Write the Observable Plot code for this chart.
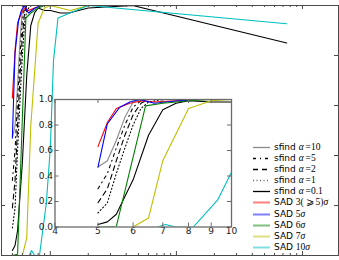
<!DOCTYPE html>
<html><head><meta charset="utf-8">
<script src="https://cdn.jsdelivr.net/npm/d3@7"></script>
<script src="https://cdn.jsdelivr.net/npm/@observablehq/plot@0.6"></script>
<style>
body{margin:0;background:#fff;}
#wrap{position:relative;width:339px;height:260px;overflow:hidden;font-family:"DejaVu Sans",sans-serif;background:#fff;}
#wrap > svg{position:absolute;left:0;top:0;}
#legend{position:absolute;left:253px;top:141.7px;font-size:9px;color:#000;}
#legend .row{height:11.15px;line-height:11.15px;white-space:nowrap;display:flex;align-items:center;}
#legend .row svg{flex:none;margin-right:4px;}
#legend .m{font-family:"Liberation Serif",serif;font-size:9.5px;}
#legend .m i{font-style:italic;}
</style></head><body><div id="wrap"><div id="legend"></div></div>
<script>
// ---- data (sigma threshold -> completeness) ----
const a10X = [5, 5.25, 5.5, 5.75, 6, 6.25, 7, 10, 20, 750];
const a10Y = [0.47, 0.52, 0.68, 0.86, 0.98, 1.0, 1.0, 1.0, 1.0, 1.0];
const a5X = [5, 5.25, 5.5, 5.75, 6, 6.25, 6.5, 10, 20, 750];
const a5Y = [0.30, 0.42, 0.62, 0.80, 0.94, 0.99, 1.0, 1.0, 1.0, 1.0];
const a2X = [5, 5.25, 5.5, 5.75, 6, 6.25, 6.5, 10, 20, 750];
const a2Y = [0.19, 0.30, 0.52, 0.72, 0.88, 0.97, 1.0, 1.0, 1.0, 1.0];
const a1X = [5, 5.25, 5.5, 5.75, 6, 6.25, 6.5, 7, 10, 20, 750];
const a1Y = [0.11, 0.19, 0.42, 0.62, 0.80, 0.93, 0.98, 1.0, 1.0, 1.0, 1.0];
const a01X = [5, 5.25, 5.5, 5.75, 6, 6.5, 7, 7.5, 8, 9, 10, 12, 14, 20, 45, 750];
const a01Y = [0.02, 0.04, 0.10, 0.24, 0.37, 0.72, 0.92, 0.97, 0.99, 0.98, 0.98, 0.97, 0.97, 0.99, 1.0, 0.85];
const s3X = [5, 5.25, 5.5, 5.9, 6.3, 6.7, 7.5, 8.5, 10, 20, 750];
const s3Y = [0.63, 0.82, 0.93, 0.97, 0.99, 0.98, 0.99, 1.0, 1.0, 1.0, 1.0];
const s5X = [5, 5.25, 5.6, 5.9, 6.2, 6.7, 7.6, 8.5, 10, 20, 750];
const s5Y = [0.47, 0.81, 0.94, 0.98, 1.0, 0.97, 0.99, 1.0, 1.0, 1.0, 1.0];
const s6X = [5, 5.5, 6.4, 7, 7.5, 8, 9, 10, 20, 750];
const s6Y = [0.0, 0.005, 0.95, 0.97, 0.98, 0.99, 1.0, 1.0, 1.0, 1.0];
const s7X = [6, 6.5, 7, 8, 9, 10, 14.4, 20, 750];
const s7Y = [0.0, 0.07, 0.52, 0.93, 0.99, 1.0, 0.98, 1.0, 1.0];
const s10X = [6.8, 7.1, 7.5, 8.2, 9.3, 10, 10.6, 11.5, 20, 750];
const s10Y = [0.0, 0.02, 0.0, 0.0, 0.21, 0.43, 0.78, 0.95, 1.0, 0.927];

const seriesNames = ["sfind α=10", "sfind α=5", "sfind α=2", "sfind α=1", "sfind α=0.1",
  "SAD 3(⩾5)σ", "SAD 5σ", "SAD 6σ", "SAD 7σ", "SAD 10σ"];
const legendPrefix = ["sfind", "sfind", "sfind", "sfind", "sfind", "SAD", "SAD", "SAD", "SAD", "SAD"];
const legendMath = ["<i>α</i>&#8201;=10", "<i>α</i>&#8201;=5", "<i>α</i>&#8201;=2", "<i>α</i>&#8201;=1", "<i>α</i>&#8201;=0.1",
  "3(&#8201;⩾&#8201;5)<i>σ</i>", "5<i>σ</i>", "6<i>σ</i>", "7<i>σ</i>", "10<i>σ</i>"];
const seriesX = [a10X, a5X, a2X, a1X, a01X, s3X, s5X, s6X, s7X, s10X];
const seriesY = [a10Y, a5Y, a2Y, a1Y, a01Y, s3Y, s5Y, s6Y, s7Y, s10Y];
const colors = ["#8a8a8a", "#000", "#000", "#000", "#000", "#ff0000", "#0000ff", "#008000", "#bfbf00", "#00bfbf"];
const dashes = [null, "3,4,1,4", "5,4", "1,2.5", null, null, null, null, null, null];
const sadIdx = [5, 6, 7, 8, 9];

// main axis ticks
const mainMajor = [10, 100, 1000];
const mainMinor = [5, 6, 7, 8, 9, 20, 30, 40, 50, 60, 70, 80, 90, 200, 300, 400, 500, 600, 700, 800, 900];
const mainYTicks = [0.2, 0.4, 0.6, 0.8];
// inset ticks
const insetXTicks = [4, 5, 6, 7, 8, 9, 10];
const insetYTicks = [0, 0.2, 0.4, 0.6, 0.8, 1.0];

const series = seriesNames.map((name, i) => ({
  name, color: colors[i], dash: dashes[i],
  rows: seriesX[i].map((x, j) => ({x, y: seriesY[i][j]}))
}));

function lineMarks() {
  return series.map(s => Plot.line(s.rows, {x: "x", y: "y", stroke: s.color, strokeWidth: 1.1,
    strokeDasharray: s.dash ?? undefined, clip: true}));
}

const W = 339, H = 260;
// ---- main plot ----
const mT = 5, mB = 5, mL = 1, mR = 1;
const mIH = H - mT - mB, mIW = W - mL - mR;
const frameCol = "#4a4a4a";
const main = Plot.plot({
  width: W, height: H, marginTop: mT, marginBottom: mB, marginLeft: mL, marginRight: mR,
  x: {type: "log", domain: [4.1, 1930], axis: null},
  y: {domain: [0, 1], axis: null},
  style: {background: "transparent"},
  marks: [
    ...lineMarks(),
    Plot.tickX(mainMajor, {x: d => d, insetBottom: mIH - 4, stroke: frameCol}),
    Plot.tickX(mainMajor, {x: d => d, insetTop: mIH - 4, stroke: frameCol}),
    Plot.tickX(mainMinor, {x: d => d, insetBottom: mIH - 2, stroke: frameCol}),
    Plot.tickX(mainMinor, {x: d => d, insetTop: mIH - 2, stroke: frameCol}),
    Plot.tickY(mainYTicks, {y: d => d, insetRight: mIW - 4, stroke: frameCol}),
    Plot.tickY(mainYTicks, {y: d => d, insetLeft: mIW - 4, stroke: frameCol}),
    Plot.frame({stroke: frameCol})
  ]
});

// ---- inset plot ----
const iT = 99, iB = 33.5, iL = 54.5, iR = 108;
const iIH = H - iT - iB, iIW = W - iL - iR;
const insetCol = "#6a6a6a";
const inset = Plot.plot({
  width: W, height: H, marginTop: iT, marginBottom: iB, marginLeft: iL, marginRight: iR,
  x: {type: "log", domain: [4, 10], axis: null},
  y: {domain: [0, 1], axis: null},
  style: {background: "transparent", fontFamily: "DejaVu Sans", fontSize: "9px", color: "#1a1a1a"},
  marks: [
    Plot.frame({fill: "white", stroke: null}),
    ...lineMarks(),
    Plot.tickX(insetXTicks, {x: d => d, insetBottom: iIH - 4, stroke: insetCol}),
    Plot.tickX(insetXTicks, {x: d => d, insetTop: iIH - 4, stroke: insetCol}),
    Plot.tickY(insetYTicks, {y: d => d, insetRight: iIW - 4, stroke: insetCol}),
    Plot.tickY(insetYTicks, {y: d => d, insetLeft: iIW - 4, stroke: insetCol}),
    Plot.axisX({ticks: insetXTicks, anchor: "bottom", tickSize: 0, tickPadding: 1, label: null, tickFormat: d => String(d)}),
    Plot.axisY({ticks: insetYTicks, anchor: "left", tickSize: 0, tickPadding: 2, label: null, tickFormat: d3.format(".1f")}),
    Plot.frame({stroke: insetCol, strokeWidth: 1.3})
  ]
});

const wrap = document.getElementById("wrap");
wrap.insertBefore(inset, wrap.firstChild);
wrap.insertBefore(main, wrap.firstChild);

// ---- legend ----
const legend = d3.select("#legend");
series.forEach((s, i) => {
  const row = legend.append("div").attr("class", "row");
  const svg = row.append("svg").attr("width", 17).attr("height", 11);
  const isSad = sadIdx.includes(i);
  svg.append("line").attr("x1", 0).attr("x2", 17).attr("y1", 5.5).attr("y2", 5.5)
    .attr("stroke", s.color)
    .attr("stroke-width", isSad ? 2 : 1.3)
    .attr("stroke-opacity", isSad ? 0.5 : (i === 3 ? 0.6 : 1))
    .attr("stroke-dasharray", s.dash);
  row.append("span").html(legendPrefix[i] + " <span class='m'>" + legendMath[i] + "</span>");
});
</script>
</body></html>
